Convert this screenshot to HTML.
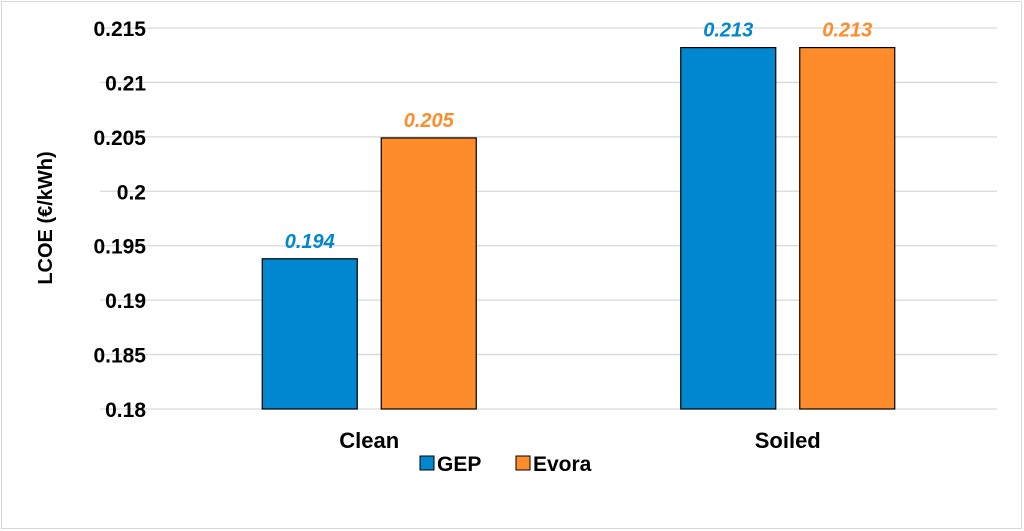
<!DOCTYPE html>
<html><head><meta charset="utf-8"><style>
body{margin:0;background:#fff;}
svg{display:block;font-family:"Liberation Sans",Arial,sans-serif;}
</style></head><body>
<svg width="1024" height="531">
<rect x="1.5" y="1.5" width="1020" height="527" fill="#fff" stroke="#d9d9d9"/>
<g id="grid"></g><g id="bars"></g><g id="labels"></g>
<text transform="translate(52,218) rotate(-90)" text-anchor="middle" font-size="20" font-weight="bold" fill="#000">LCOE (€/kWh)</text>
<g>
<rect x="420" y="456" width="14" height="14" fill="#0087d0" stroke="#000"/>
<text x="437" y="471" font-size="21" font-weight="bold">GEP</text>
<rect x="516" y="456" width="14" height="14" fill="#ff8c2a" stroke="#000"/>
<text x="533" y="471" font-size="21" font-weight="bold">Evora</text>
</g>
</svg>
<script>
const categories=["Clean","Soiled"];
const gepValues=[0.1938,0.2132];
const evoraValues=[0.2049,0.2132];
const gepLabels=["0.194","0.213"];
const evoraLabels=["0.205","0.213"];
const yTicks=[0.18,0.185,0.19,0.195,0.2,0.205,0.21,0.215];
const yTickLabels=["0.18","0.185","0.19","0.195","0.2","0.205","0.21","0.215"];
const NS="http://www.w3.org/2000/svg";
const y0=409,y1=28,vmin=0.18,vmax=0.215,xl=160,xr=997;
function y(v){return y0-(v-vmin)/(vmax-vmin)*(y0-y1);}
const band=(xr-xl)/categories.length;
function mk(t,a,p,txt){const e=document.createElementNS(NS,t);for(const k in a)e.setAttribute(k,a[k]);if(txt!==undefined)e.textContent=txt;p.appendChild(e);return e;}
const g=document.getElementById('grid'),b=document.getElementById('bars'),l=document.getElementById('labels');
yTicks.forEach((v,i)=>{
 const ln=mk('line',{x1:xl-60,x2:xr,y1:y(v),y2:y(v),stroke:'#d9d9d9','stroke-width':1.3},g);
 
 
 const t=mk('text',{x:146,y:y(v)+8,'text-anchor':'end','font-size':21,'font-weight':'bold'},g,yTickLabels[i]);
 
 
});
const bw=95;
categories.forEach((c,i)=>{
 const cx=xl+band*(i+0.5);
 const series=[[gepValues[i],'#0087d0',gepLabels[i],cx-bw-12,'gep'],[evoraValues[i],'#ff8c2a',evoraLabels[i],cx+12,'evora']];
 series.forEach(s=>{
  const r=mk('rect',{x:s[3],y:y(s[0]),width:bw,height:y0-y(s[0]),fill:s[1],stroke:'#000','stroke-width':1.2},b);
  
  
  const t=mk('text',{x:s[3]+bw/2,y:y(s[0])-11,'text-anchor':'middle','font-size':20,'font-weight':'bold','font-style':'italic',fill:s[1]},l,s[2]);
  
  
 });
 const ct=mk('text',{x:cx,y:448,'text-anchor':'middle','font-size':22,'font-weight':'bold'},l,c);
 
 
});
</script>
</body></html>
